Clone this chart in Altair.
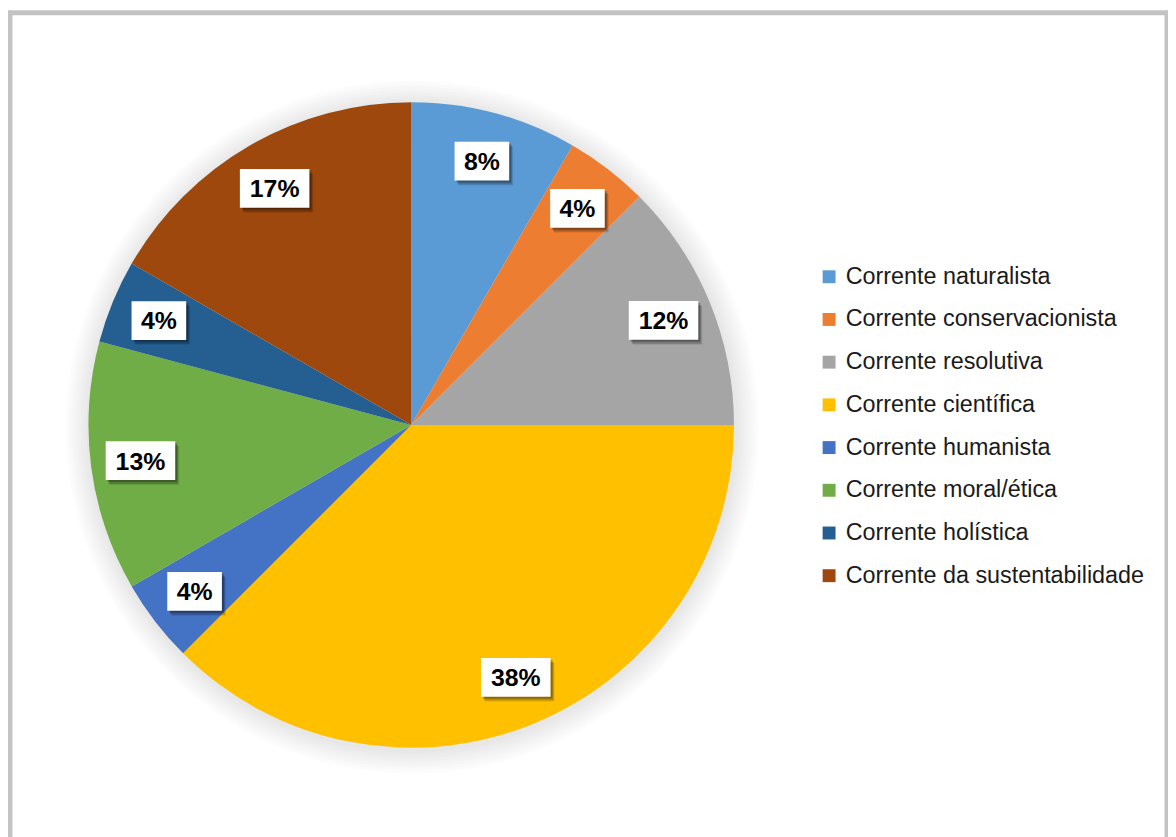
import math
import altair as alt
import pandas as pd

categories = [
    "Corrente naturalista",
    "Corrente conservacionista",
    "Corrente resolutiva",
    "Corrente científica",
    "Corrente humanista",
    "Corrente moral/ética",
    "Corrente holística",
    "Corrente da sustentabilidade",
]
values = [8.33, 4.17, 12.5, 37.5, 4.17, 12.5, 4.17, 16.67]
labels = ["8%", "4%", "12%", "38%", "4%", "13%", "4%", "17%"]
colors = ["#5B9BD5", "#ED7D31", "#A5A5A5", "#FFC000", "#4472C4", "#70AD47", "#255E91", "#9E480E"]

df = pd.DataFrame({"cat": categories, "value": values, "label": labels, "idx": list(range(len(categories)))})

CX, CY, R = 406, 417, 325
LR = 275
W, H = 1168, 829

# soft glow behind the pie
glow_layers = []
for k in range(1, 9):
    glow_layers.append(
        alt.Chart(df).mark_arc(radius=R + 3 * k, theta=0, theta2=2 * math.pi,
                               color="black", opacity=0.013)
        .encode(x=alt.value(CX + 1), y=alt.value(CY + 2))
        .transform_filter("datum.idx == 0")
    )

pie = alt.Chart(df).mark_arc(radius=R, stroke=None).encode(
    theta=alt.Theta("value:Q", stack=True),
    order=alt.Order("idx:Q"),
    color=alt.Color(
        "cat:N",
        scale=alt.Scale(domain=categories, range=colors),
        sort=categories,
        legend=alt.Legend(
            title=None, orient="none", legendX=815, legendY=256,
            symbolType="square", symbolSize=169, symbolStrokeWidth=0,
            labelFont="Liberation Sans", labelFontSize=23.5, labelColor="#1a1a1a",
            labelOffset=5, rowPadding=18, labelLimit=400,
        ),
    ),
    x=alt.value(CX), y=alt.value(CY),
)

base = (
    alt.Chart(df)
    .transform_joinaggregate(total="sum(value)")
    .transform_window(cum="sum(value)", sort=[alt.SortField("idx")])
    .transform_calculate(mid="(datum.cum - datum.value / 2) / datum.total * 2 * PI")
    .transform_calculate(lx=f"{CX} + {LR} * sin(datum.mid)", ly=f"{CY} - {LR} * cos(datum.mid)")
    .transform_calculate(bw="15 * length(datum.label) + 25")
    .transform_calculate(
        bx1="datum.lx - datum.bw / 2", bx2="datum.lx + datum.bw / 2",
        by1="datum.ly - 19.5", by2="datum.ly + 19.5",
    )
)

def box(dx, dy, color, opacity):
    return base.transform_calculate(
        sx1=f"datum.bx1 + {dx}", sx2=f"datum.bx2 + {dx}",
        sy1=f"datum.by1 + {dy}", sy2=f"datum.by2 + {dy}",
    ).mark_rect(color=color, opacity=opacity).encode(
        x=alt.X("sx1:Q", scale=None, axis=None), x2="sx2:Q",
        y=alt.Y("sy1:Q", scale=None, axis=None), y2="sy2:Q",
    )

shadows = [box(2, 2, "black", 0.25), box(3, 4, "black", 0.18), box(4, 5, "black", 0.1)]
white_box = box(0, 0, "white", 1)

text = base.mark_text(
    font="Liberation Sans", fontWeight="bold", fontSize=25, color="black",
    align="center", baseline="middle", dy=1,
).encode(
    x=alt.X("lx:Q", scale=None, axis=None),
    y=alt.Y("ly:Q", scale=None, axis=None),
    text="label:N",
)

border_color = "#c3c3c3"
border = [
    alt.Chart(df).transform_filter("datum.idx == 0").mark_rule(color=border_color, strokeWidth=5)
    .encode(x=alt.value(2), x2=alt.value(2), y=alt.value(0), y2=alt.value(H + 20)),
    alt.Chart(df).transform_filter("datum.idx == 0").mark_rule(color=border_color, strokeWidth=5)
    .encode(x=alt.value(0), x2=alt.value(W), y=alt.value(2), y2=alt.value(2)),
    alt.Chart(df).transform_filter("datum.idx == 0").mark_rule(color=border_color, strokeWidth=5)
    .encode(x=alt.value(W - 1), x2=alt.value(W - 1), y=alt.value(0), y2=alt.value(H + 20)),
]

chart = alt.layer(*glow_layers, pie, *shadows, white_box, text, *border).properties(
    width=W, height=H, padding=0,
    autosize=alt.AutoSizeParams(type="none"),
).configure_view(stroke=None).resolve_scale(color="independent")

chart.save("out.html", embed_options={"renderer": "svg", "actions": False})
